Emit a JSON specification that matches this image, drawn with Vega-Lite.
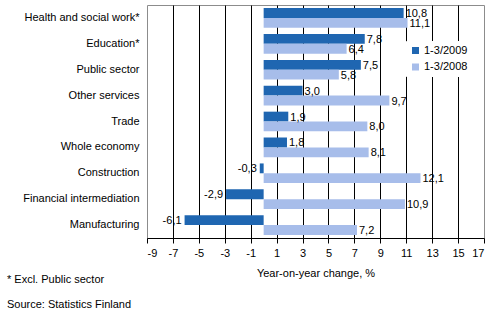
{
  "$schema": "https://vega.github.io/schema/vega-lite/v6.json",
  "width": 337,
  "height": 233,
  "autosize": {"type": "none"},
  "padding": {"left": 147, "top": 5, "right": 13, "bottom": 93},
  "background": "white",
  "config": {
    "locale": {"number": {"decimal": ",", "thousands": " ", "grouping": [3], "currency": ["", " €"], "minus": "-"}},
    "font": "Liberation Sans",
    "view": {"stroke": "#8c8c8c", "strokeWidth": 1}
  },
  "title": {
    "text": "* Excl. Public sector",
    "subtitle": "Source: Statistics Finland",
    "orient": "bottom",
    "anchor": "start",
    "frame": "group",
    "dx": -140,
    "offset": -4,
    "fontSize": 11,
    "fontWeight": "normal",
    "color": "#000",
    "subtitleFontSize": 11,
    "subtitleColor": "#000",
    "subtitlePadding": 14
  },
  "data": {
    "values": [
      {"category": "Health and social work*", "series": "1-3/2009", "value": 10.8},
      {"category": "Health and social work*", "series": "1-3/2008", "value": 11.1},
      {"category": "Education*", "series": "1-3/2009", "value": 7.8},
      {"category": "Education*", "series": "1-3/2008", "value": 6.4},
      {"category": "Public sector", "series": "1-3/2009", "value": 7.5},
      {"category": "Public sector", "series": "1-3/2008", "value": 5.8},
      {"category": "Other services", "series": "1-3/2009", "value": 3.0},
      {"category": "Other services", "series": "1-3/2008", "value": 9.7},
      {"category": "Trade", "series": "1-3/2009", "value": 1.9},
      {"category": "Trade", "series": "1-3/2008", "value": 8.0},
      {"category": "Whole economy", "series": "1-3/2009", "value": 1.8},
      {"category": "Whole economy", "series": "1-3/2008", "value": 8.1},
      {"category": "Construction", "series": "1-3/2009", "value": -0.3},
      {"category": "Construction", "series": "1-3/2008", "value": 12.1},
      {"category": "Financial intermediation", "series": "1-3/2009", "value": -2.9},
      {"category": "Financial intermediation", "series": "1-3/2008", "value": 10.9},
      {"category": "Manufacturing", "series": "1-3/2009", "value": -6.1},
      {"category": "Manufacturing", "series": "1-3/2008", "value": 7.2}
    ]
  },
  "encoding": {
    "y": {
      "field": "category",
      "type": "nominal",
      "sort": null,
      "scale": {"paddingInner": 0.24, "paddingOuter": 0.12},
      "axis": {
        "title": null,
        "ticks": false,
        "domain": false,
        "labelFontSize": 11,
        "labelColor": "#000",
        "labelPadding": 8,
        "labelLimit": 200
      }
    },
    "yOffset": {"field": "series", "type": "nominal", "sort": ["1-3/2009", "1-3/2008"]},
    "x": {
      "field": "value",
      "type": "quantitative",
      "scale": {"domain": [-9, 17], "nice": false, "zero": false},
      "axis": {
        "values": [-9, -7, -5, -3, -1, 1, 3, 5, 7, 9, 11, 13, 15, 17],
        "format": "d",
        "title": "Year-on-year change, %",
        "titleFontSize": 11,
        "titleFontWeight": "normal",
        "titleColor": "#000",
        "titlePadding": 9,
        "labelFontSize": 11,
        "labelColor": "#000",
        "labelPadding": 4,
        "tickColor": "#000",
        "tickSize": 5,
        "domainColor": "#000",
        "gridColor": {"condition": {"test": "datum.value == -9 || datum.value == 17", "value": "transparent"}, "value": "#000"},
        "gridOpacity": 1,
        "gridWidth": 1
      }
    }
  },
  "layer": [
    {
      "mark": {"type": "bar"},
      "encoding": {
        "color": {
          "field": "series",
          "type": "nominal",
          "sort": ["1-3/2009", "1-3/2008"],
          "scale": {"domain": ["1-3/2009", "1-3/2008"], "range": ["#1f66b1", "#a7bdea"]},
          "legend": {
            "title": null,
            "orient": "none",
            "legendX": 259,
            "legendY": 36,
            "padding": 4,
            "fillColor": "white",
            "strokeColor": "white",
            "symbolType": "square",
            "symbolSize": 49,
            "symbolStrokeWidth": 0,
            "labelFontSize": 11,
            "labelColor": "#000",
            "rowPadding": 4.5,
            "labelOffset": 3
          }
        }
      }
    },
    {
      "transform": [{"filter": "datum.value >= 0"}],
      "mark": {"type": "text", "align": "left", "dx": 2, "dy": 1, "fontSize": 11, "color": "#000"},
      "encoding": {"text": {"field": "value", "type": "quantitative", "format": ".1f"}}
    },
    {
      "transform": [{"filter": "datum.value < 0"}],
      "mark": {"type": "text", "align": "right", "dx": -3, "dy": 1, "fontSize": 11, "color": "#000"},
      "encoding": {"text": {"field": "value", "type": "quantitative", "format": ".1f"}}
    }
  ]
}
